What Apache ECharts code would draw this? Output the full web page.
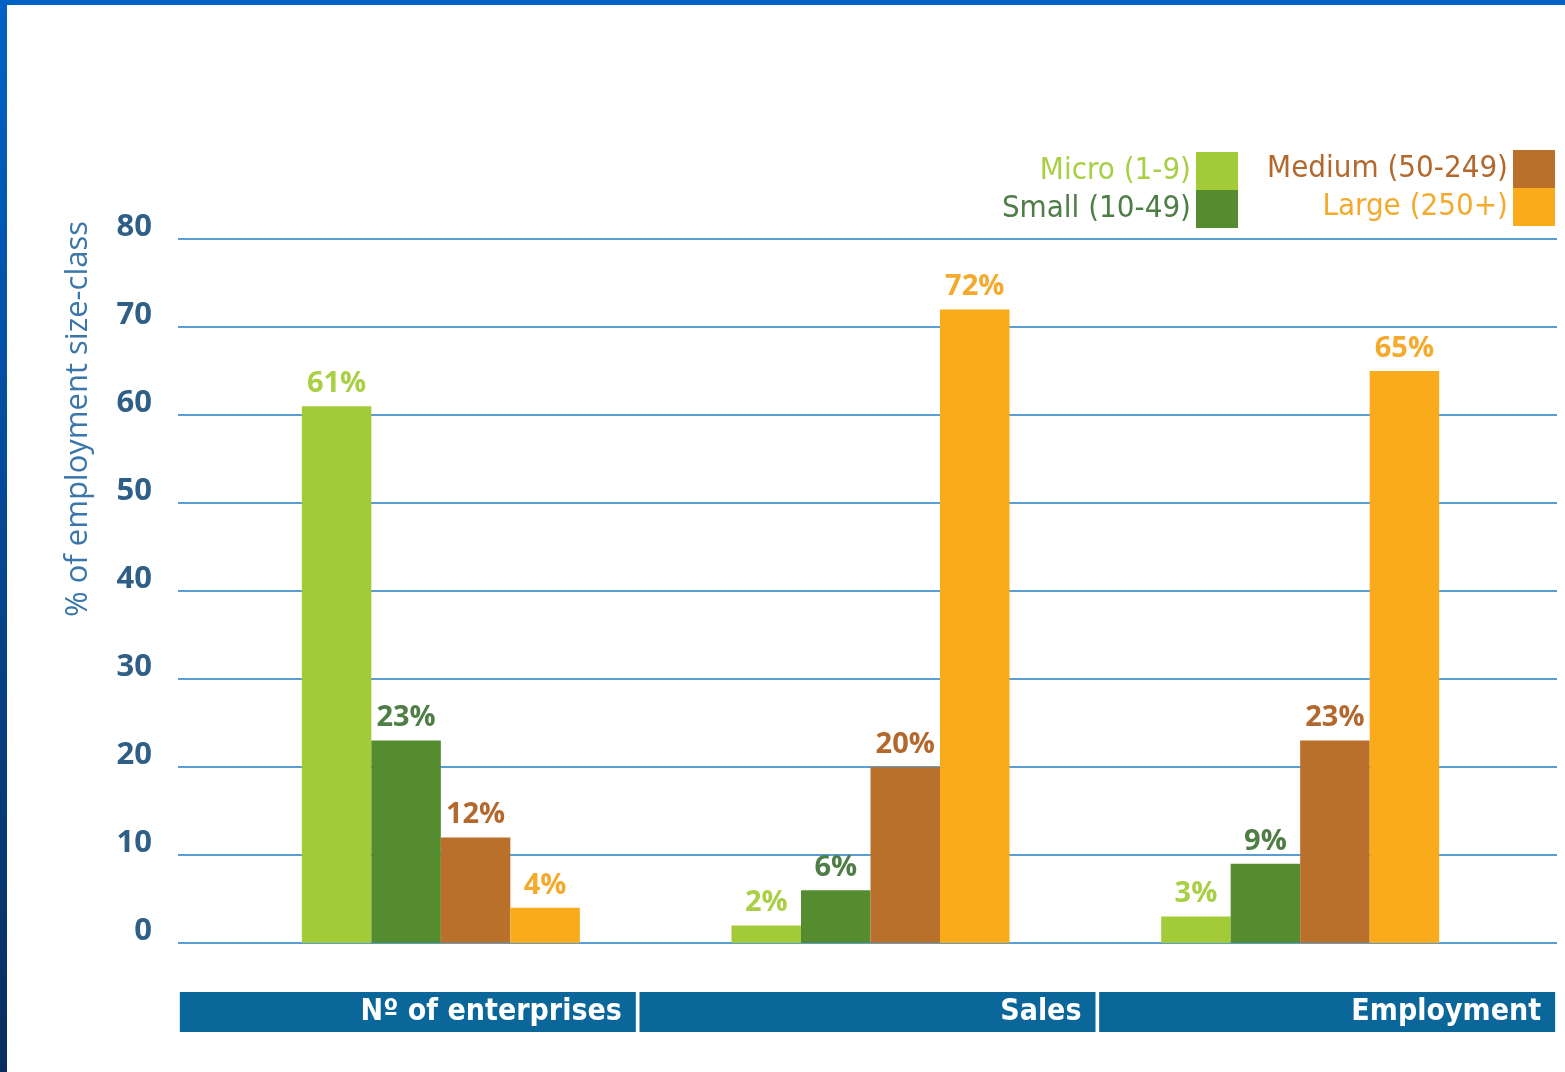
<!DOCTYPE html>
<html>
<head>
<meta charset="utf-8">
<script src="https://cdn.jsdelivr.net/npm/echarts@6/dist/echarts.min.js"></script>
<style>
  html, body { margin: 0; padding: 0; background: #fff; }
  #edgeTop { position: absolute; left: 0; top: 0; width: 1565px; height: 5px; background: #0062c6; }
  #edgeLeft { position: absolute; left: 0; top: 0; width: 7px; height: 1072px; background: linear-gradient(#0062c6, #0a2d5e); }
  #chart { position: absolute; left: 0; top: 0; width: 1565px; height: 1072px; }
</style>
</head>
<body>
<div id="edgeTop"></div>
<div id="edgeLeft"></div>
<div id="chart"></div>
<script>
var categories = ['Nº of enterprises', 'Sales', 'Employment'];
var yTicks = [0, 10, 20, 30, 40, 50, 60, 70, 80];
var micro = [61, 2, 3];
var small = [23, 6, 9];
var medium = [12, 20, 23];
var large = [4, 72, 65];

var names = ['Micro (1-9)', 'Small (10-49)', 'Medium (50-249)', 'Large (250+)'];
var barColors = ['#a3cb38', '#548c2f', '#b8702a', '#f9ab1c'];
var textColors = ['#a9cf45', '#4f7d46', '#b3692e', '#f4aa2c'];

var chart = echarts.init(document.getElementById('chart'));

function barSeries(i, data) {
  return {
    name: names[i],
    type: 'bar',
    xAxisIndex: 1,
    yAxisIndex: 1,
    data: data,
    barWidth: 69.5,
    barGap: '0%',
    itemStyle: { color: barColors[i] },
    label: {
      show: true,
      position: 'top',
      distance: 8,
      formatter: '{c}%',
      color: textColors[i],
      fontFamily: 'Open Sans',
      fontWeight: 'bold',
      fontSize: 29
    }
  };
}

function legendItems(list) {
  return list.map(function (i) {
    return { name: names[i], textStyle: { color: textColors[i] } };
  });
}

var legendBase = {
  orient: 'vertical',
  align: 'right',
  padding: 0,
  itemGap: 0,
  itemWidth: 42,
  itemHeight: 38,
  icon: 'rect',
  selectedMode: false,
  textStyle: { fontFamily: 'DejaVu Sans Condensed', fontSize: 31, lineHeight: 38 }
};

var option = {
  animation: false,
  grid: [
    { left: 178, right: 8, top: 239, bottom: 129 },
    { left: 226, right: 50, top: 239, bottom: 129 }
  ],
  legend: [
    Object.assign({}, legendBase, { right: 327, top: 152, data: legendItems([0, 1]) }),
    Object.assign({}, legendBase, { right: 10, top: 150, data: legendItems([2, 3]) })
  ],
  xAxis: [
    {
      type: 'category',
      gridIndex: 0,
      data: categories,
      axisLine: { show: false },
      axisTick: { show: false },
      axisLabel: {
        interval: 0,
        margin: 49,
        width: 440,
        height: 40,
        lineHeight: 40,
        padding: [0, 14, 0, 2],
        backgroundColor: '#0b6699',
        formatter: function (v) { return '{t|' + v + '}'; },
        rich: {
          t: {
            align: 'right',
            color: '#ffffff',
            fontFamily: 'DejaVu Sans Condensed',
            fontWeight: 'bold',
            fontSize: 30,
            lineHeight: 40
          }
        }
      }
    },
    {
      type: 'category',
      gridIndex: 1,
      data: categories,
      show: false
    }
  ],
  yAxis: [
    {
      type: 'value',
      gridIndex: 0,
      min: yTicks[0],
      max: yTicks[yTicks.length - 1],
      interval: 10,
      axisLine: { show: false },
      axisTick: { show: false },
      splitLine: { lineStyle: { color: '#5a9fd4', width: 2 } },
      axisLabel: {
        margin: 26,
        color: '#2f5f86',
        fontFamily: 'Open Sans',
        fontWeight: 'bold',
        fontSize: 31,
        verticalAlign: 'bottom',
        lineHeight: 24
      }
    },
    {
      type: 'value',
      gridIndex: 1,
      min: yTicks[0],
      max: yTicks[yTicks.length - 1],
      interval: 10,
      show: false,
      splitLine: { show: false }
    }
  ],
  graphic: [{
    type: 'text',
    x: 78,
    y: 419,
    rotation: Math.PI / 2,
    style: {
      text: '% of employment size-class',
      fill: '#3a76aa',
      font: '31px "Open Sans"',
      textAlign: 'center',
      textVerticalAlign: 'middle'
    }
  }],
  series: [
    barSeries(0, micro),
    barSeries(1, small),
    barSeries(2, medium),
    barSeries(3, large)
  ]
};

chart.setOption(option);
</script>
</body>
</html>
